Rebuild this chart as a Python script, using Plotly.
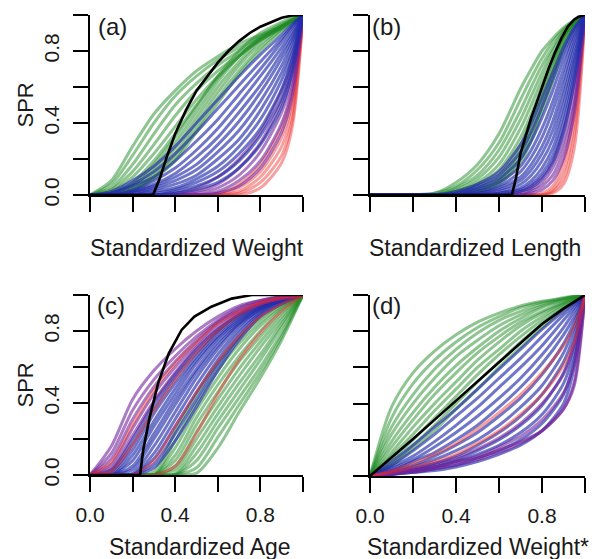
import plotly.graph_objects as go

W, H = 594, 559

# ---------------- data ----------------
tick_vals = [0.0, 0.2, 0.4, 0.6, 0.8, 1.0]
tick_text = ["0.0", "", "0.4", "", "0.8", ""]
x_titles = ["Standardized Weight", "Standardized Length", "Standardized Age", "Standardized Weight*"]
y_title = "SPR"
panel_tags = ["(a)", "(b)", "(c)", "(d)"]

# ---- panel (a): SPR vs standardized weight ----
a_x = [0, .1, .2, .3, .4, .5, .6, .7, .8, .9, .95, 1]
a_green = [
    [0, .08, .27, .45, .58, .69, .77, .84, .89, .94, .97, 1],
    [0, .06, .22, .40, .55, .66, .75, .82, .88, .94, .97, 1],
    [0, .04, .17, .34, .50, .62, .72, .80, .87, .93, .97, 1],
    [0, .03, .13, .28, .44, .58, .69, .78, .86, .93, .97, 1],
    [0, .02, .10, .23, .38, .53, .66, .77, .86, .93, .97, 1],
    [0, .01, .07, .19, .34, .50, .65, .77, .87, .94, .97, 1],
    [0, .01, .06, .17, .32, .49, .66, .80, .90, .96, .985, 1],
    [0, .01, .05, .15, .29, .46, .63, .77, .88, .95, .98, 1],
    [0, 0, .04, .13, .26, .43, .60, .74, .86, .94, .97, 1],
    [0, 0, .03, .11, .23, .40, .57, .72, .84, .93, .97, 1],
    [0, 0, .03, .10, .21, .37, .54, .69, .82, .92, .96, 1],
    [0, 0, .02, .09, .19, .35, .51, .67, .80, .91, .96, 1],
]
a_blue = [
    [0, .02, .08, .16, .27, .40, .53, .66, .78, .89, .95, 1],
    [0, .01, .06, .13, .23, .35, .48, .61, .74, .87, .94, 1],
    [0, .01, .05, .10, .19, .30, .42, .56, .70, .85, .93, 1],
    [0, 0, .03, .08, .15, .25, .37, .51, .66, .82, .91, 1],
    [0, 0, .02, .06, .12, .21, .32, .46, .61, .79, .89, 1],
    [0, 0, .02, .05, .10, .17, .28, .41, .57, .76, .87, 1],
    [0, 0, .01, .04, .08, .14, .24, .36, .52, .72, .85, 1],
    [0, 0, .01, .03, .06, .11, .20, .31, .47, .68, .82, 1],
    [0, 0, 0, .02, .04, .09, .16, .27, .42, .64, .79, 1],
    [0, 0, 0, .01, .03, .07, .13, .23, .37, .59, .76, 1],
    [0, 0, 0, 0, .02, .05, .10, .19, .33, .54, .72, 1],
    [0, 0, 0, 0, .01, .03, .07, .15, .28, .49, .68, 1],
]
a_purple = [
    [0, 0, 0, 0, .01, .04, .10, .20, .35, .58, .75, 1],
    [0, 0, 0, 0, 0, .02, .06, .15, .29, .52, .70, 1],
    [0, 0, 0, 0, 0, .01, .04, .11, .24, .46, .65, 1],
    [0, 0, 0, 0, 0, 0, .02, .08, .19, .40, .60, 1],
    [0, 0, 0, 0, 0, 0, .01, .05, .15, .35, .55, 1],
]
a_red = [
    [0, 0, 0, 0, 0, 0, .01, .06, .17, .38, .58, 1],
    [0, 0, 0, 0, 0, 0, 0, .04, .13, .32, .52, 1],
    [0, 0, 0, 0, 0, 0, 0, .02, .10, .27, .47, 1],
    [0, 0, 0, 0, 0, 0, 0, .01, .07, .22, .42, 1],
    [0, 0, 0, 0, 0, 0, 0, 0, .04, .18, .38, 1],
]
a_black_x = [0, .296, .33, .36, .40, .45, .50, .55, .60, .65, .70, .75, .80, .85, .90, .95, 1.0]
a_black_y = [0, 0, .10, .21, .34, .47, .58, .66, .735, .80, .855, .90, .935, .96, .985, .997, 1.0]

# ---- panel (b): SPR vs standardized length ----
b_x = [0, .3, .4, .5, .6, .7, .75, .8, .85, .9, .95, 1]
b_green = [
    [0, .01, .07, .17, .34, .59, .70, .80, .87, .93, .97, 1],
    [0, .01, .05, .14, .29, .53, .65, .76, .85, .92, .97, 1],
    [0, 0, .04, .11, .25, .47, .60, .72, .82, .91, .97, 1],
    [0, 0, .03, .09, .21, .42, .55, .68, .80, .90, .96, 1],
    [0, 0, .02, .07, .17, .37, .50, .64, .77, .88, .96, 1],
    [0, 0, .02, .06, .14, .32, .45, .60, .75, .88, .96, 1],
    [0, 0, .01, .04, .11, .28, .42, .58, .74, .88, .96, 1],
    [0, 0, .01, .03, .09, .25, .39, .55, .71, .86, .95, 1],
    [0, 0, 0, .02, .08, .22, .36, .52, .69, .85, .95, 1],
    [0, 0, 0, .02, .07, .20, .33, .49, .66, .83, .94, 1],
    [0, 0, 0, .01, .06, .18, .30, .46, .63, .81, .93, 1],
]
b_blue = [
    [0, 0, .02, .06, .13, .28, .40, .54, .68, .82, .93, 1],
    [0, 0, .01, .05, .11, .24, .35, .49, .64, .79, .92, 1],
    [0, 0, .01, .04, .09, .20, .30, .43, .58, .75, .90, 1],
    [0, 0, 0, .03, .07, .16, .25, .37, .52, .70, .88, 1],
    [0, 0, 0, .02, .05, .13, .21, .32, .47, .65, .85, 1],
    [0, 0, 0, .01, .04, .10, .17, .27, .41, .60, .82, 1],
    [0, 0, 0, .01, .03, .08, .14, .23, .36, .55, .78, 1],
    [0, 0, 0, 0, .02, .06, .11, .19, .31, .50, .75, 1],
    [0, 0, 0, 0, .01, .04, .08, .15, .26, .45, .71, 1],
    [0, 0, 0, 0, .01, .03, .06, .12, .22, .40, .67, 1],
    [0, 0, 0, 0, 0, .02, .04, .09, .18, .35, .63, 1],
]
b_purple = [
    [0, 0, 0, 0, 0, .02, .05, .10, .19, .36, .62, 1],
    [0, 0, 0, 0, 0, .01, .03, .07, .15, .30, .56, 1],
    [0, 0, 0, 0, 0, 0, .02, .05, .11, .25, .50, 1],
    [0, 0, 0, 0, 0, 0, .01, .03, .08, .20, .45, 1],
]
b_red = [
    [0, 0, 0, 0, 0, 0, 0, .01, .05, .18, .48, 1],
    [0, 0, 0, 0, 0, 0, 0, 0, .03, .13, .40, 1],
    [0, 0, 0, 0, 0, 0, 0, 0, .02, .09, .33, 1],
    [0, 0, 0, 0, 0, 0, 0, 0, .01, .06, .26, 1],
]
b_black_x = [0, .66, .68, .70, .72, .75, .78, .80, .83, .86, .89, .92, .95, .97, 1.0]
b_black_y = [0, 0, .10, .23, .31, .43, .53, .60, .70, .79, .87, .935, .975, .99, 1.0]

# ---- panel (c): SPR vs standardized age ----
c_x = [0, .1, .2, .3, .4, .5, .6, .7, .8, .9, 1]
c_green = [
    [0, 0, 0, .02, .24, .45, .62, .76, .87, .95, 1],
    [0, 0, 0, 0, .19, .40, .58, .73, .85, .94, 1],
    [0, 0, 0, 0, .15, .36, .54, .70, .83, .93, 1],
    [0, 0, 0, 0, .11, .32, .50, .66, .80, .92, 1],
    [0, 0, 0, 0, .08, .28, .46, .63, .77, .90, 1],
    [0, 0, 0, 0, .05, .24, .42, .59, .74, .88, 1],
    [0, 0, 0, 0, .03, .20, .38, .55, .71, .86, 1],
    [0, 0, 0, 0, .01, .16, .34, .51, .67, .84, 1],
    [0, 0, 0, 0, 0, .12, .30, .47, .64, .82, 1],
    [0, 0, 0, 0, 0, .08, .26, .43, .60, .79, 1],
    [0, 0, 0, 0, 0, .04, .21, .39, .57, .77, 1],
    [0, 0, 0, 0, 0, .01, .15, .35, .54, .75, 1],
]
c_blue = [
    [0, .03, .20, .40, .56, .70, .81, .89, .95, .98, 1],
    [0, .02, .17, .37, .54, .68, .80, .89, .95, .98, 1],
    [0, .01, .14, .34, .51, .66, .79, .88, .94, .98, 1],
    [0, 0, .11, .30, .48, .64, .77, .87, .94, .98, 1],
    [0, 0, .08, .27, .45, .62, .76, .86, .93, .98, 1],
    [0, 0, .05, .23, .42, .59, .74, .85, .93, .97, 1],
    [0, 0, .03, .20, .39, .57, .72, .84, .92, .97, 1],
    [0, 0, .01, .16, .35, .54, .70, .83, .92, .97, 1],
    [0, 0, 0, .12, .31, .50, .67, .81, .91, .97, 1],
    [0, 0, 0, .09, .27, .46, .64, .79, .90, .96, 1],
    [0, 0, 0, .06, .23, .42, .61, .77, .89, .96, 1],
    [0, 0, 0, .04, .19, .38, .58, .75, .88, .95, 1],
]
c_purple = [
    [0, .16, .42, .58, .70, .80, .88, .94, .97, .99, 1],
    [0, .12, .36, .53, .66, .77, .86, .93, .97, .99, 1],
    [0, .09, .31, .49, .63, .75, .85, .92, .96, .99, 1],
    [0, .06, .26, .45, .60, .73, .84, .91, .96, .99, 1],
    [0, .04, .22, .41, .57, .71, .82, .90, .95, .98, 1],
]
c_red = [
    [0, .07, .28, .47, .62, .74, .84, .91, .96, .99, 1],
    [0, .02, .17, .36, .53, .68, .80, .89, .95, .98, 1],
    [0, 0, 0, .08, .27, .46, .63, .77, .88, .95, 1],
    [0, 0, 0, 0, .05, .23, .45, .64, .79, .91, 1],
]
c_black_x = [0, .235, .25, .28, .32, .37, .43, .49, .57, .665, .76, 1.0]
c_black_y = [0, 0, .14, .32, .51, .676, .806, .88, .935, .98, 1.0, 1.0]

# ---- panel (d): SPR vs standardized weight* ----
d_x = [0, .1, .2, .3, .4, .5, .6, .7, .8, .9, .95, 1]
d_green = [
    [0, .38, .57, .69, .78, .85, .90, .94, .965, .985, .995, 1],
    [0, .32, .51, .64, .74, .82, .88, .93, .96, .98, .99, 1],
    [0, .27, .45, .59, .70, .79, .86, .91, .95, .98, .99, 1],
    [0, .23, .40, .54, .66, .75, .83, .89, .94, .975, .99, 1],
    [0, .19, .35, .49, .61, .71, .80, .87, .93, .97, .985, 1],
    [0, .16, .31, .45, .57, .68, .77, .85, .91, .96, .98, 1],
    [0, .13, .27, .40, .52, .64, .74, .83, .90, .955, .98, 1],
    [0, .11, .23, .36, .48, .60, .70, .80, .88, .95, .975, 1],
    [0, .09, .20, .32, .44, .56, .67, .77, .86, .94, .97, 1],
    [0, .07, .17, .28, .40, .52, .63, .74, .84, .93, .965, 1],
    [0, .06, .15, .25, .37, .48, .60, .71, .82, .92, .96, 1],
]
d_blue = [
    [0, .08, .17, .27, .37, .48, .59, .70, .81, .91, .955, 1],
    [0, .06, .14, .23, .33, .43, .54, .65, .77, .89, .945, 1],
    [0, .05, .11, .19, .28, .38, .49, .60, .72, .86, .93, 1],
    [0, .04, .09, .16, .24, .33, .43, .54, .67, .82, .91, 1],
    [0, .03, .08, .13, .20, .28, .38, .49, .62, .78, .88, 1],
    [0, .03, .06, .11, .17, .24, .33, .43, .56, .73, .85, 1],
    [0, .02, .05, .09, .14, .20, .28, .38, .50, .68, .82, 1],
    [0, .02, .04, .07, .11, .17, .24, .33, .45, .63, .78, 1],
    [0, .01, .03, .06, .09, .14, .20, .28, .39, .57, .74, 1],
    [0, .01, .03, .05, .08, .12, .17, .24, .34, .51, .69, 1],
    [0, .01, .02, .04, .06, .10, .14, .20, .29, .45, .64, 1],
    [0, .01, .02, .03, .05, .08, .12, .17, .25, .40, .60, 1],
]
d_purple = [
    [0, .02, .04, .07, .10, .15, .21, .29, .40, .56, .72, 1],
    [0, .01, .03, .05, .08, .11, .16, .22, .31, .46, .62, 1],
    [0, .01, .02, .04, .06, .09, .13, .18, .25, .37, .52, 1],
    [0, .01, .03, .05, .075, .10, .145, .19, .25, .37, .50, 1],
]
d_red = [
    [0, .03, .07, .12, .18, .26, .35, .45, .57, .72, .83, 1],
    [0, .02, .05, .08, .12, .18, .25, .34, .45, .61, .74, 1],
]
d_black_x = [0, .1, .2, .3, .4, .5, .6, .7, .8, .9, .95, 1.0]
d_black_y = [0, .10, .205, .31, .415, .52, .63, .735, .84, .925, .965, 1.0]

# ---------------- figure ----------------
FONT = "Liberation Sans, Arial, sans-serif"
TXT = "#1a1a1a"
colors = {
    "green": "rgba(30,140,35,0.5)",
    "blue": "rgba(35,45,170,0.65)",
    "purple": "rgba(115,35,155,0.6)",
    "red": "rgba(235,45,45,0.45)",
}

# drawing order per panel (later groups are drawn on top)
panels = [
    (a_x, [("green", a_green), ("red", a_red), ("purple", a_purple), ("blue", a_blue)], a_black_x, a_black_y),
    (b_x, [("green", b_green), ("red", b_red), ("purple", b_purple), ("blue", b_blue)], b_black_x, b_black_y),
    (c_x, [("green", c_green), ("blue", c_blue), ("purple", c_purple), ("red", c_red)], c_black_x, c_black_y),
    (d_x, [("green", d_green), ("blue", d_blue), ("purple", d_purple), ("red", d_red)], d_black_x, d_black_y),
]

# plot-area pixel boxes (left, right, top, bottom)
boxes = [(90, 303, 15, 195), (370, 585, 15, 195), (90, 303, 295, 475), (370, 585, 295, 476)]

fig = go.Figure()
for i, (xg, groups, bx, by) in enumerate(panels):
    xa = "x" if i == 0 else f"x{i+1}"
    ya = "y" if i == 0 else f"y{i+1}"
    for cname, curves in groups:
        for ys in curves:
            fig.add_trace(go.Scatter(
                x=xg, y=ys, mode="lines", xaxis=xa, yaxis=ya,
                line=dict(color=colors[cname], width=3, shape="spline", smoothing=0.8),
                hoverinfo="skip", showlegend=False))
    fig.add_trace(go.Scatter(
        x=bx, y=by, mode="lines", xaxis=xa, yaxis=ya,
        line=dict(color="black", width=2.6),
        hoverinfo="skip", showlegend=False))

layout = dict(
    template="none",
    width=W, height=H, autosize=False, margin=dict(l=0, r=0, t=0, b=0, pad=0),
    paper_bgcolor="white", plot_bgcolor="rgba(0,0,0,0)",
    showlegend=False, font=dict(family=FONT, color=TXT),
)

for i, (l, r, t, b) in enumerate(boxes):
    xk = "xaxis" if i == 0 else f"xaxis{i+1}"
    yk = "yaxis" if i == 0 else f"yaxis{i+1}"
    xa_anchor = "y" if i == 0 else f"y{i+1}"
    ya_anchor = "x" if i == 0 else f"x{i+1}"
    layout[xk] = dict(
        domain=[l / W, r / W], anchor=xa_anchor, range=[0, 1], automargin=False,
        tickmode="array", tickvals=tick_vals, ticktext=tick_text,
        showticklabels=(i >= 2), ticks="outside", ticklen=15, tickwidth=2, tickcolor="black",
        showline=True, linewidth=2, linecolor="black", showgrid=False, zeroline=False,
        tickfont=dict(size=21, family=FONT, color=TXT), ticklabelstandoff=5,
    )
    layout[yk] = dict(
        domain=[1 - b / H, 1 - t / H], anchor=ya_anchor, range=[0, 1], automargin=False,
        tickmode="array", tickvals=tick_vals, ticktext=tick_text,
        showticklabels=(i % 2 == 0), ticks="outside", ticklen=15, tickwidth=2, tickcolor="black",
        showline=True, linewidth=2, linecolor="black", showgrid=False, zeroline=False,
        tickangle=-90, tickfont=dict(size=21, family=FONT, color=TXT), ticklabelstandoff=6,
    )

fig.update_layout(**layout)

ann = []
# x titles
for (cx, cy), txt in zip([(197, 248), (475, 248), (200, 547), (478, 547)], x_titles):
    ann.append(dict(text=txt, x=cx / W, y=1 - cy / H, xref="paper", yref="paper",
                    xanchor="center", yanchor="middle", showarrow=False,
                    font=dict(size=23, family=FONT, color=TXT)))
# y titles
for cy in (105, 385):
    ann.append(dict(text=y_title, x=24.5 / W, y=1 - cy / H, xref="paper", yref="paper",
                    xanchor="center", yanchor="middle", showarrow=False, textangle=-90,
                    font=dict(size=22, family=FONT, color=TXT)))
# panel tags
for (lx, ty), tag in zip([(96, 11), (370, 11), (95, 290), (370, 290)], panel_tags):
    ann.append(dict(text=tag, x=lx / W, y=1 - ty / H, xref="paper", yref="paper",
                    xanchor="left", yanchor="top", showarrow=False,
                    font=dict(size=24, family=FONT, color=TXT)))
fig.update_layout(annotations=ann)

# remove the browser's default 8px page margin so the 594x559 figure fills the window
fig.write_html("out.html", config={"displayModeBar": False},
               post_script="document.body.style.margin='0';document.body.style.overflow='hidden';")
